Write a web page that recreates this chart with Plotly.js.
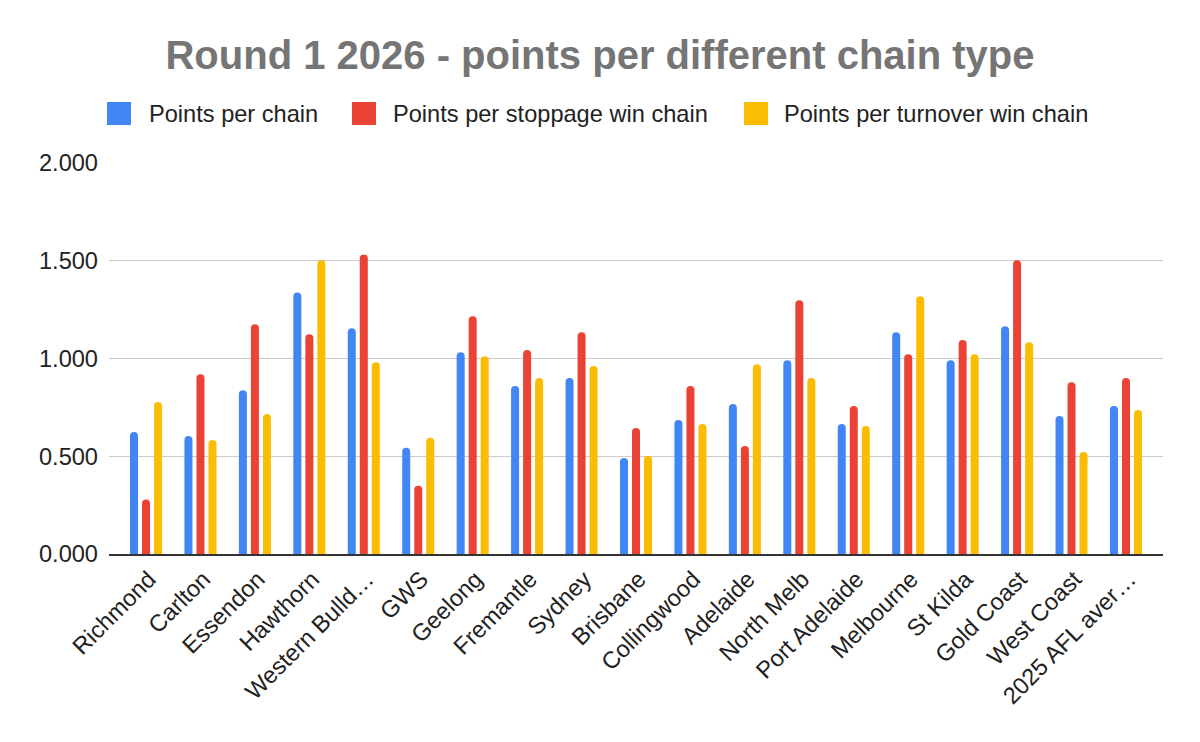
<!DOCTYPE html>
<html>
<head>
<meta charset="utf-8">
<script src="https://cdn.plot.ly/plotly-3.0.1.min.js"></script>
<style>html,body{margin:0;padding:0;background:#fff;}#chart{width:1200px;height:742px;}</style>
</head>
<body>
<div id="chart"></div>
<script>
const categories = ["Richmond","Carlton","Essendon","Hawthorn","Western Bulld…","GWS","Geelong","Fremantle","Sydney","Brisbane","Collingwood","Adelaide","North Melb","Port Adelaide","Melbourne","St Kilda","Gold Coast","West Coast","2025 AFL aver…"];
const seriesNames = ["Points per chain","Points per stoppage win chain","Points per turnover win chain"];
const pointsPerChain = [0.624,0.604,0.838,1.338,1.155,0.543,1.032,0.859,0.900,0.491,0.685,0.767,0.991,0.665,1.134,0.991,1.165,0.706,0.757];
const pointsPerStoppageWinChain = [0.279,0.920,1.175,1.124,1.532,0.349,1.216,1.043,1.134,0.645,0.859,0.553,1.298,0.757,1.022,1.094,1.502,0.879,0.900];
const pointsPerTurnoverWinChain = [0.777,0.583,0.716,1.502,0.981,0.594,1.012,0.900,0.961,0.502,0.665,0.971,0.900,0.655,1.318,1.022,1.083,0.522,0.736];
const yTickVals = [0, 0.5, 1.0, 1.5, 2.0];

const colors = ["#4285F4","#EA4335","#FBBC04"];
const seriesValues = [pointsPerChain, pointsPerStoppageWinChain, pointsPerTurnoverWinChain];
const FONT = "Liberation Sans, Arial, sans-serif";

const traces = seriesValues.map((vals, i) => ({
  type: "bar",
  name: seriesNames[i],
  x: categories,
  y: vals,
  marker: {color: colors[i]},
  showlegend: false
}));

// plot area in pixels
const L = 109, R = 1163, T = 163, B = 554;
const W = 1200, H = 742;
const px2x = p => (p - L) / (R - L);
const px2y = p => (B - p) / (B - T);

const legendSquareX = [107, 352, 744];
const legendTextX = [148, 392, 783];
const legTop = 102, legBot = 125, legMid = 113.5;

const shapes = seriesNames.map((n, i) => ({
  type: "rect", xref: "paper", yref: "paper",
  x0: px2x(legendSquareX[i]), x1: px2x(legendSquareX[i] + 24),
  y0: px2y(legBot), y1: px2y(legTop),
  fillcolor: colors[i], line: {width: 0}
}));
const annotations = seriesNames.map((n, i) => ({
  text: n, xref: "paper", yref: "paper",
  x: px2x(legendTextX[i]), y: px2y(legMid),
  xanchor: "left", yanchor: "middle", showarrow: false,
  borderpad: 0,
  font: {family: FONT, size: 23.6, color: "#222222"}
}));

const layout = {
  width: W, height: H,
  margin: {l: L, r: W - R, t: T, b: H - B, pad: 0},
  paper_bgcolor: "#ffffff", plot_bgcolor: "#ffffff",
  font: {family: FONT, color: "#222222"},
  title: {
    text: "<b>Round 1 2026 - points per different chain type</b>",
    x: 0.5, xanchor: "center", xref: "container",
    y: 1 - 55 / H, yanchor: "middle", yref: "container",
    font: {family: FONT, size: 40, color: "#757575"}
  },
  barmode: "group",
  bargap: 0.338,
  bargroupgap: 0.333,
  barcornerradius: 4,
  showlegend: false,
  xaxis: {
    type: "category",
    range: [-0.68, categories.length - 1 + 0.68],
    tickangle: -45,
    ticklabelshift: 3,
    tickfont: {family: FONT, size: 23.6, color: "#222222"},
    showline: true, linecolor: "#333333", linewidth: 2,
    showgrid: false, zeroline: false, ticks: "",
    fixedrange: true
  },
  yaxis: {
    range: [0, 2],
    tickvals: yTickVals,
    tickformat: ".3f",
    tickfont: {family: FONT, size: 23.6, color: "#222222"},
    showgrid: true, gridcolor: "#cccccc", gridwidth: 1.3,
    zeroline: false, showline: false, ticks: "",
    ticklabelstandoff: 10,
    fixedrange: true
  },
  shapes: shapes,
  annotations: annotations
};

Plotly.newPlot("chart", traces, layout, {displayModeBar: false, staticPlot: true});
</script>
</body>
</html>
